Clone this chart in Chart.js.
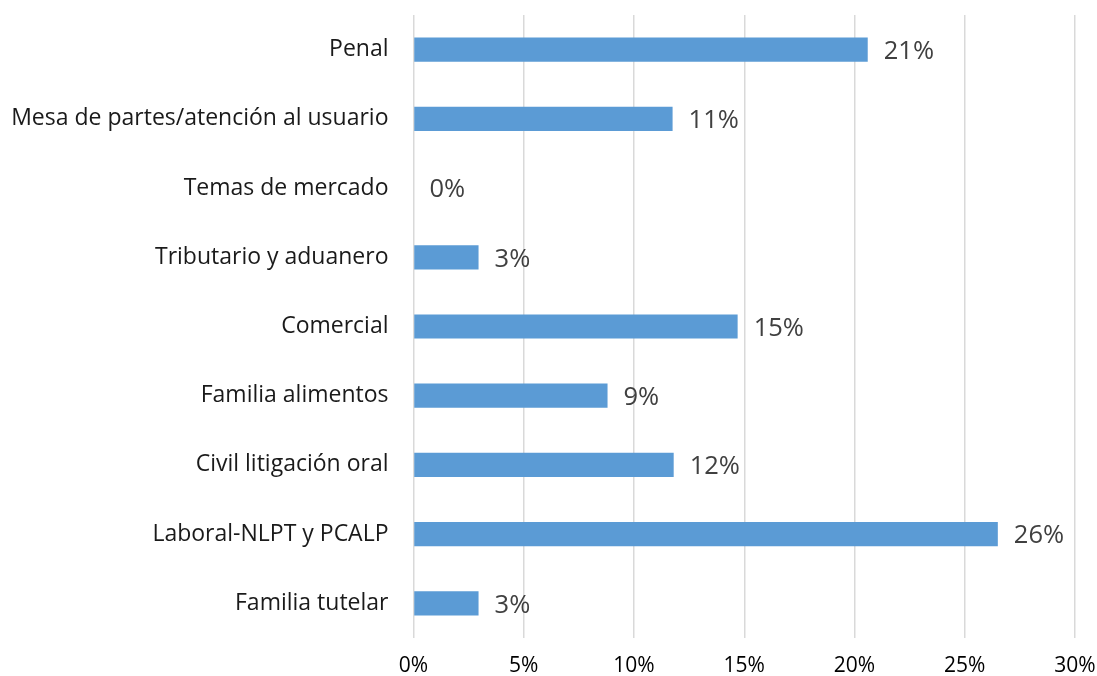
<!DOCTYPE html>
<html>
<head>
<meta charset="utf-8">
<script src="https://cdn.jsdelivr.net/npm/chart.js@4"></script>
<style>
  html, body { margin: 0; padding: 0; background: #fff; }
  #wrap { width: 1097px; height: 676px; }
</style>
</head>
<body>
<div id="wrap"><canvas id="chart"></canvas></div>
<script>
const categories = [
  "Penal",
  "Mesa de partes/atención al usuario",
  "Temas de mercado",
  "Tributario y aduanero",
  "Comercial",
  "Familia alimentos",
  "Civil litigación oral",
  "Laboral-NLPT y PCALP",
  "Familia tutelar"
];
const shares = [20.6, 11.75, 0, 2.95, 14.7, 8.8, 11.8, 26.5, 2.95];
const shareLabels = ["21%", "11%", "0%", "3%", "15%", "9%", "12%", "26%", "3%"];
const tickValues = [0, 5, 10, 15, 20, 25, 30];

const fontFamily = "'Open Sans', sans-serif";

// draws the value text right after each bar
const valueLabels = {
  id: "valueLabels",
  afterDatasetsDraw(chart) {
    const ctx = chart.ctx;
    const meta = chart.getDatasetMeta(0);
    ctx.save();
    ctx.font = "25.5px " + fontFamily;
    ctx.fillStyle = "#404040";
    ctx.textAlign = "left";
    ctx.textBaseline = "middle";
    meta.data.forEach(function (bar, i) {
      ctx.fillText(shareLabels[i], bar.x + 16, bar.y + 2);
    });
    ctx.restore();
  }
};

new Chart(document.getElementById("chart"), {
  type: "bar",
  data: {
    labels: categories,
    datasets: [
      {
        data: shares,
        backgroundColor: "#5B9BD5",
        borderWidth: 0,
        barPercentage: 0.7,
        categoryPercentage: 0.5,
      },
    ],
  },
  options: {
    indexAxis: "y",
    responsive: true,
    maintainAspectRatio: false,
    animation: false,
    layout: { padding: { top: 15, right: 22, left: 0, bottom: 0 } },
    scales: {
      x: {
        min: 0,
        max: 30,
        afterBuildTicks(axis) {
          axis.ticks = tickValues.map(v => ({ value: v }));
        },
        afterFit(axis) {
          axis.height = 38;
          axis.paddingLeft = 0;
          axis.paddingRight = 0;
        },
        grid: { color: "#d9d9d9", lineWidth: 1.5, drawTicks: false },
        border: { display: false },
        ticks: {
          padding: 15,
          color: "#000",
          font: { family: fontFamily, size: 21 },
          callback: v => v + "%",
        },
      },
      y: {
        afterFit(axis) {
          axis.width = 413.5;
          axis.paddingTop = 0;
          axis.paddingBottom = 0;
        },
        grid: { display: false, drawTicks: false },
        border: { display: false },
        ticks: {
          padding: 25,
          color: "#1a1a1a",
          font: { family: fontFamily, size: 23 },
        },
      },
    },
    plugins: {
      legend: { display: false },
      tooltip: { enabled: false },
    },
  },
  plugins: [valueLabels],
});
</script>
</body>
</html>
